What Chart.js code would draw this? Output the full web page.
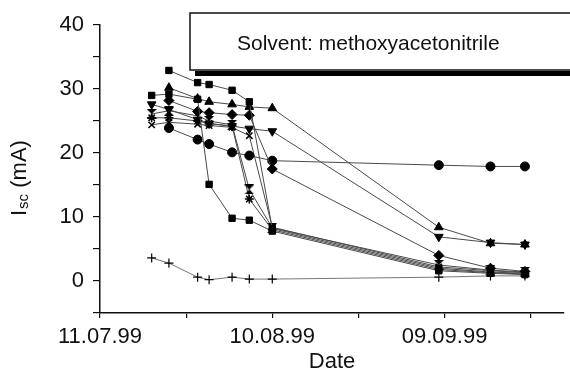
<!DOCTYPE html>
<html>
<head>
<meta charset="utf-8">
<script src="https://cdn.jsdelivr.net/npm/chart.js@4"></script>
<style>
  html, body { margin: 0; padding: 0; background: #fff; overflow: hidden; }
  canvas { display: block; }
</style>
</head>
<body>
<canvas id="iscChart" width="570" height="381"></canvas>
<script>
// days after 11.07.99
const days = [9, 12, 17, 19, 23, 26, 30, 59, 68, 74];

const squaresTop = [null, 32.9, 31.0, 30.7, 29.8, 28.0, 8.2, 2.0, 1.4, 1.2];
const squaresDrop = [29.0, 29.2, 28.4, 15.1, 9.8, 9.5, 7.8, 1.6, 1.2, 1.0];
const triUp = [null, 30.2, 28.5, 28.0, 27.6, 27.2, 27.0, 8.4, 5.9, 5.7];
const triDown = [27.6, 26.8, 25.2, 24.6, 24.2, 23.8, 23.4, 6.9, 6.0, 5.7];
const diamonds = [null, 28.2, 26.5, 26.3, 26.0, 25.9, 17.5, 4.0, 2.0, 1.5];
const circles = [null, 23.9, 22.1, 21.4, 20.1, 19.6, 18.8, 18.1, 17.9, 17.9];
const crosses = [24.4, 24.8, 24.5, 24.3, 24.0, 22.7, 8.4, 2.2, 1.6, 1.3];
const hourglass = [26.1, 26.6, 25.8, 25.0, 24.4, 14.3, 8.3, 2.5, 1.7, 1.4];
const stars = [25.5, 25.5, 25.0, 24.6, 24.2, 12.8, 8.0, 1.8, 1.3, 1.1];
const plusses = [3.6, 2.8, 0.6, 0.2, 0.6, 0.3, 0.3, 0.6, 0.8, 0.8];

const xTickValues = [0, 15, 30, 45, 60, 75];
const xTickLabels = { 0: "11.07.99", 30: "10.08.99", 60: "09.09.99" };
const yTickLabels = [0, 10, 20, 30, 40];

Chart.defaults.font.family = "'Liberation Sans', Arial, sans-serif";
Chart.defaults.color = "#111";

// hourglass marker
const hg = document.createElement("canvas");
hg.width = 10; hg.height = 10;
const hctx = hg.getContext("2d");
hctx.fillStyle = "#000";
hctx.beginPath();
hctx.moveTo(0, 0); hctx.lineTo(10, 0); hctx.lineTo(5, 5); hctx.closePath();
hctx.moveTo(0, 10); hctx.lineTo(10, 10); hctx.lineTo(5, 5); hctx.closePath();
hctx.fill();

function makeSeries(values, style, extra) {
  const pts = [];
  for (let i = 0; i < days.length; i++) {
    if (values[i] !== null) pts.push({ x: days[i], y: values[i] });
  }
  return Object.assign({
    data: pts,
    borderColor: "#4a4a4a",
    borderWidth: 1,
    backgroundColor: "#000",
    pointBackgroundColor: "#000",
    pointBorderColor: "#000",
    pointBorderWidth: 1,
    pointRadius: 4.5,
    pointStyle: style,
    tension: 0
  }, extra || {});
}

const boxPlugin = {
  id: "solventBox",
  afterDraw(chart) {
    const c = chart.ctx;
    c.save();
    c.fillStyle = "#000";
    c.fillRect(195, 71, 420, 5);
    c.fillStyle = "#fff";
    c.fillRect(190, 13, 420, 57);
    c.strokeStyle = "#111";
    c.lineWidth = 1.5;
    c.strokeRect(190, 13, 420, 57);
    c.fillStyle = "#111";
    c.font = "21px 'Liberation Sans', Arial, sans-serif";
    c.textBaseline = "middle";
    c.textAlign = "left";
    c.fillText("Solvent: methoxyacetonitrile", 237, 44);
    c.restore();
  }
};

const yTitlePlugin = {
  id: "yTitle",
  afterDraw(chart) {
    const c = chart.ctx;
    c.save();
    c.translate(26, 216);
    c.rotate(-Math.PI / 2);
    c.fillStyle = "#111";
    c.textBaseline = "alphabetic";
    c.font = "22px 'Liberation Sans', Arial, sans-serif";
    c.fillText("I", 0, 0);
    let w = c.measureText("I").width + 1;
    c.font = "15px 'Liberation Sans', Arial, sans-serif";
    c.fillText("sc", w, 2);
    w += c.measureText("sc").width;
    c.font = "22px 'Liberation Sans', Arial, sans-serif";
    c.fillText(" (mA)", w, 0);
    c.restore();
  }
};

new Chart(document.getElementById("iscChart"), {
  type: "line",
  data: {
    datasets: [
      makeSeries(squaresTop, "rect"),
      makeSeries(squaresDrop, "rect"),
      makeSeries(triUp, "triangle", { pointRadius: 5 }),
      makeSeries(triDown, "triangle", { pointRadius: 5, pointRotation: 180 }),
      makeSeries(diamonds, "rectRot", { pointRadius: 5 }),
      makeSeries(circles, "circle"),
      makeSeries(crosses, "crossRot", { pointBorderWidth: 1.5 }),
      makeSeries(hourglass, hg),
      makeSeries(stars, "star", { pointBorderWidth: 1.5 }),
      makeSeries(plusses, "cross", { pointBorderWidth: 1.2, borderColor: "#777" })
    ]
  },
  options: {
    responsive: false,
    animation: false,
    layout: { padding: { top: 25, left: 0, right: 0, bottom: 0 } },
    plugins: {
      legend: { display: false },
      tooltip: { enabled: false }
    },
    scales: {
      x: {
        type: "linear",
        min: 0,
        max: 80.8,
        afterBuildTicks: (scale) => {
          scale.ticks = xTickValues.map(v => ({ value: v }));
        },
        afterFit: (scale) => { scale.height = 68; },
        ticks: {
          font: { size: 22 },
          padding: 6,
          maxRotation: 0,
          autoSkip: false,
          callback: (v) => xTickLabels[v] || ""
        },
        grid: { drawOnChartArea: false, tickLength: 5, color: "#111", lineWidth: 1.2 },
        border: { color: "#111", width: 1.5 },
        title: { display: true, text: "Date", font: { size: 22 }, padding: { top: 0, bottom: 6 } }
      },
      y: {
        min: -5,
        max: 40,
        afterFit: (scale) => { scale.width = 100; },
        ticks: {
          stepSize: 5,
          font: { size: 22 },
          padding: 9,
          callback: (v) => yTickLabels.includes(v) ? String(v) : ""
        },
        grid: { drawOnChartArea: false, tickLength: 7, color: "#111", lineWidth: 1.2 },
        border: { color: "#111", width: 1.5 }
      }
    }
  },
  plugins: [boxPlugin, yTitlePlugin]
});
</script>
</body>
</html>
